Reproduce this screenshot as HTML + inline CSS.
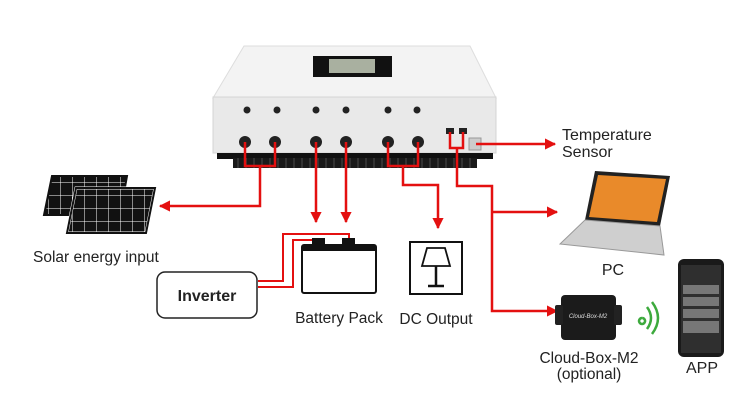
<!DOCTYPE html>
<html><head><meta charset="utf-8"><style>
html,body{margin:0;padding:0;background:#fff}
svg{display:block}
text{font-family:"Liberation Sans",Arial,sans-serif;fill:#222}
</style></head><body>
<svg width="750" height="414" viewBox="0 0 750 414" xmlns="http://www.w3.org/2000/svg">
<defs>
<marker id="ar" viewBox="0 0 10 10" refX="9" refY="5" markerWidth="4.5" markerHeight="4.5" orient="auto-start-reverse" markerUnits="strokeWidth"><path d="M0,0 L10,5 L0,10 z" fill="#e41010"/></marker>
<pattern id="cell" width="12" height="13" patternUnits="userSpaceOnUse"><rect width="12" height="13" fill="#111"/><path d="M0,0H12M0,0V13" stroke="#fff" stroke-width="1"/></pattern>
<pattern id="fin" width="8" height="10" patternUnits="userSpaceOnUse"><rect width="8" height="10" fill="#1a1a1a"/><rect x="5" width="2" height="10" fill="#333"/></pattern>
</defs>
<!-- device -->
<polygon points="244,46 470,46 496,98 213,98" fill="#f3f3f3" stroke="#ddd"/>
<rect x="213" y="97" width="283" height="56" fill="#e9e9e9" stroke="#d4d4d4"/>
<rect x="313" y="56" width="79" height="21" fill="#111"/>
<rect x="329" y="59" width="46" height="14" fill="#a9b0a0"/>
<rect x="217" y="153" width="276" height="6" fill="#111"/>
<rect x="233" y="158" width="244" height="10" fill="url(#fin)"/>
<g fill="#222">
<circle cx="247" cy="110" r="3.5"/><circle cx="277" cy="110" r="3.5"/><circle cx="316" cy="110" r="3.5"/><circle cx="346" cy="110" r="3.5"/><circle cx="388" cy="110" r="3.5"/><circle cx="417" cy="110" r="3.5"/>
<circle cx="245" cy="142" r="6"/><circle cx="275" cy="142" r="6"/><circle cx="316" cy="142" r="6"/><circle cx="346" cy="142" r="6"/><circle cx="388" cy="142" r="6"/><circle cx="418" cy="142" r="6"/>
<rect x="446" y="128" width="8" height="6"/><rect x="459" y="128" width="8" height="6"/>
</g>
<rect x="469" y="138" width="12" height="12" fill="#ccc" stroke="#999"/>
<!-- red lines -->
<g stroke="#e41010" stroke-width="2.5" fill="none">
<path d="M245,142V166H275V142M260,166V206H160" marker-end="url(#ar)"/>
<path d="M316,142V222" marker-end="url(#ar)"/>
<path d="M346,142V222" marker-end="url(#ar)"/>
<path d="M388,142V166H418V142M403,166V185H438V228" marker-end="url(#ar)"/>
<path d="M450,132V148H463V132M457,148V186H492V311H557" marker-end="url(#ar)"/>
<path d="M492,212H557" marker-end="url(#ar)"/>
<path d="M476,144H555" marker-end="url(#ar)"/>
<path d="M258,281H283V234H349V240M258,287H293V240H318V244" stroke-width="2"/>
</g>
<!-- solar -->
<g stroke="#111" stroke-width="2">
<polygon points="52,176 127,176 120,215 44,215" fill="url(#cell)"/>
<polygon points="76,188 155,188 146,233 67,233" fill="url(#cell)" stroke="#fff" stroke-width="3"/>
<polygon points="76,188 155,188 146,233 67,233" fill="none"/>
</g>
<text x="33" y="262" font-size="15.5">Solar energy input</text>
<!-- inverter -->
<rect x="157" y="272" width="100" height="46" rx="8" fill="#fff" stroke="#222" stroke-width="1.5"/>
<text x="207" y="301" font-size="16" font-weight="bold" text-anchor="middle">Inverter</text>
<!-- battery -->
<rect x="312" y="238" width="13" height="8" fill="#111"/><rect x="342" y="238" width="13" height="8" fill="#111"/>
<rect x="302" y="245" width="74" height="48" rx="2" fill="#fff" stroke="#111" stroke-width="2"/>
<rect x="302" y="245" width="74" height="6" fill="#111"/>
<text x="339" y="323" font-size="15.5" text-anchor="middle">Battery Pack</text>
<!-- dc output -->
<rect x="410" y="242" width="52" height="52" fill="#fff" stroke="#111" stroke-width="2"/>
<path d="M427,248H445L450,266H422Z" fill="none" stroke="#111" stroke-width="1.8"/>
<path d="M436,266V285M428,286H444" stroke="#111" stroke-width="2.5"/>
<text x="436" y="324" font-size="15.5" text-anchor="middle">DC Output</text>
<!-- temperature -->
<text x="562" y="140" font-size="16">Temperature</text>
<text x="562" y="157" font-size="16">Sensor</text>
<!-- laptop -->
<polygon points="595,171 670,176 660,226 585,220" fill="#222"/>
<polygon points="598,175 666,179 657,222 589,217" fill="#e98a2a"/>
<polygon points="585,220 660,226 664,255 560,244" fill="#cfcfcf" stroke="#999"/>
<text x="613" y="275" font-size="16" text-anchor="middle">PC</text>
<!-- cloud box -->
<rect x="561" y="295" width="55" height="45" rx="4" fill="#1b1b1b"/>
<rect x="555" y="305" width="8" height="20" rx="2" fill="#222"/><rect x="614" y="305" width="8" height="20" rx="2" fill="#222"/>
<text x="588" y="318" font-size="6" style="fill:#ddd" text-anchor="middle" font-style="italic">Cloud-Box-M2</text>
<path d="M642,318a3,3 0 1,0 0.1,0M647,307q8,11 0,22M652,302q12,16 0,32" stroke="#3daa3d" stroke-width="2.5" fill="none"/>
<text x="589" y="363" font-size="15.5" text-anchor="middle">Cloud-Box-M2</text>
<text x="589" y="379" font-size="15.5" text-anchor="middle">(optional)</text>
<!-- phone -->
<rect x="678" y="259" width="46" height="98" rx="6" fill="#1a1a1a"/>
<rect x="681" y="265" width="40" height="88" fill="#2f2f2f"/>
<rect x="683" y="285" width="36" height="9" fill="#777"/><rect x="683" y="297" width="36" height="9" fill="#777"/><rect x="683" y="309" width="36" height="9" fill="#777"/><rect x="683" y="321" width="36" height="12" fill="#777"/>
<text x="702" y="373" font-size="16" text-anchor="middle">APP</text>
</svg>
</body></html>
